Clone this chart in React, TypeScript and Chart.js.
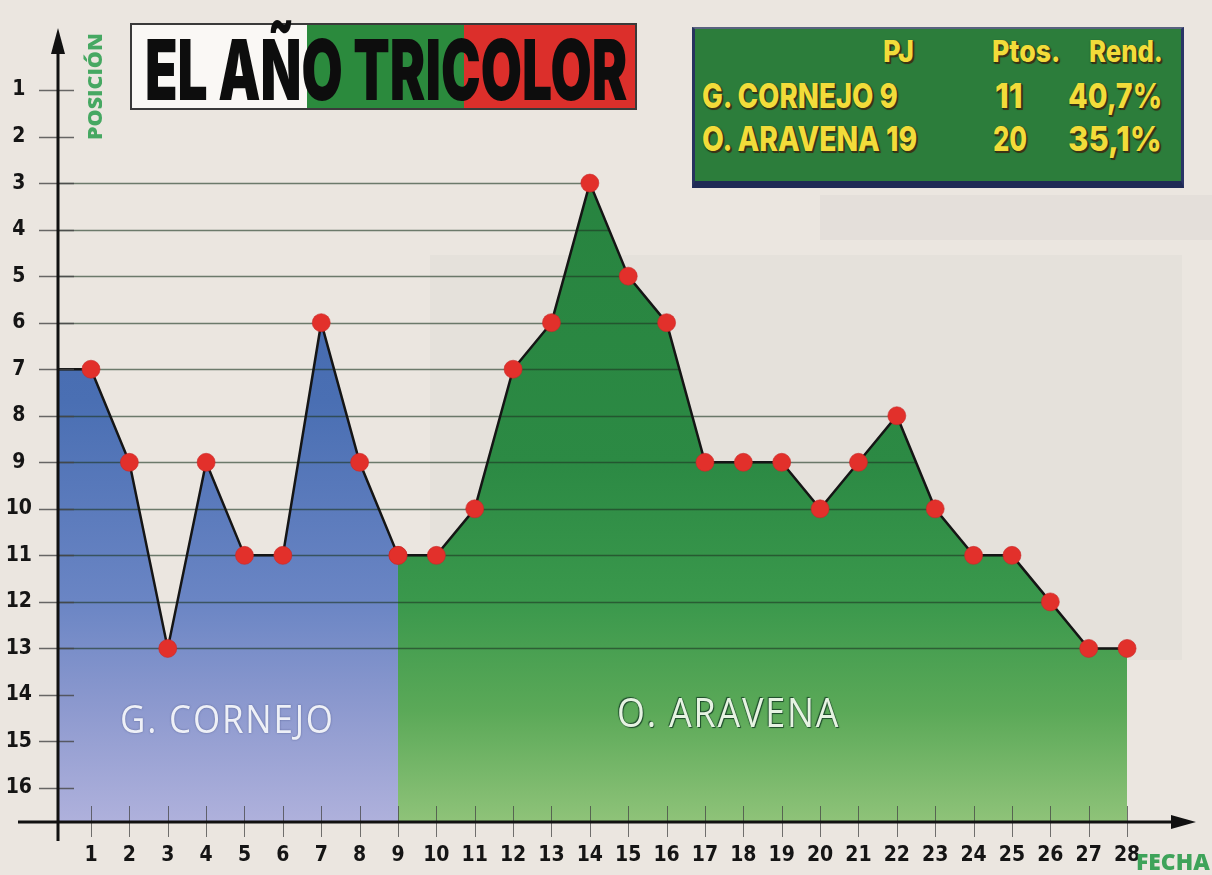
import React, { useEffect, useLayoutEffect, useRef } from "react";
import { Chart, registerables } from "chart.js";

Chart.register(...registerables);

// ---------- DATA ----------
const fechaTicks = [1, 2, 3, 4, 5, 6, 7, 8, 9, 10, 11, 12, 13, 14, 15, 16, 17, 18, 19, 20, 21, 22, 23, 24, 25, 26, 27, 28];
const posicionTicks = [1, 2, 3, 4, 5, 6, 7, 8, 9, 10, 11, 12, 13, 14, 15, 16];

const cornejoFechas = [1, 2, 3, 4, 5, 6, 7, 8, 9];
const cornejoPos = [7, 9, 13, 9, 11, 11, 6, 9, 11];

const aravenaFechas = [10, 11, 12, 13, 14, 15, 16, 17, 18, 19, 20, 21, 22, 23, 24, 25, 26, 27, 28];
const aravenaPos = [11, 10, 7, 6, 3, 5, 6, 9, 9, 9, 10, 9, 8, 10, 11, 11, 12, 13, 13];

const titleText = "EL AÑO TRICOLOR";
const statsHeader = ["PJ", "Ptos.", "Rend."];
const statsNames = ["G. CORNEJO 9", "O. ARAVENA 19"];
const statsPtos = ["11", "20"];
const statsRend = ["40,7%", "35,1%"];
const areaNames = ["G. CORNEJO", "O. ARAVENA"];
const yAxisTitle = "POSICIÓN";
const xAxisTitle = "FECHA";

// axis extents (value space)
const X_MIN = 0.14;
const X_MAX = 29.77;
const Y_MIN = -0.29;
const Y_MAX = 16.73;

const TICK_FONT = "'Liberation Sans Narrow', 'DejaVu Sans Condensed', 'Liberation Sans', sans-serif";

function rightmostCrossing(xs: number[], ys: number[], level: number): number | null {
  let best: number | null = null;
  for (let i = 0; i < xs.length - 1; i++) {
    const x0 = xs[i], x1 = xs[i + 1], y0 = ys[i], y1 = ys[i + 1];
    if (level < Math.min(y0, y1) || level > Math.max(y0, y1)) continue;
    let xc: number;
    if (y0 === y1) xc = x1;
    else xc = x0 + ((level - y0) / (y1 - y0)) * (x1 - x0);
    if (best === null || xc > best) best = xc;
  }
  return best;
}

function makeGradient(chart: any, stops: [number, string][]) {
  const ca = chart.chartArea;
  if (!ca) return stops[0][1];
  const g = chart.ctx.createLinearGradient(0, ca.top, 0, ca.bottom);
  stops.forEach(([o, c]) => g.addColorStop(o, c));
  return g;
}

const blueStops: [number, string][] = [
  [0, "#3d62aa"],
  [0.47, "#4a6fb3"],
  [0.72, "#6a85c4"],
  [0.86, "#8e9acf"],
  [1, "#afb1dc"],
];
const greenStops: [number, string][] = [
  [0, "#25803d"],
  [0.55, "#2c8a44"],
  [0.72, "#3a984c"],
  [0.86, "#5ba958"],
  [1, "#8fc379"],
];

const decorPlugin = {
  id: "decor",
  beforeDatasetsDraw(chart: any) {
    const { ctx, chartArea: ca, scales } = chart;
    const x = scales.x, y = scales.y;
    const allF = [...cornejoFechas, ...aravenaFechas];
    const allP = [...cornejoPos, ...aravenaPos];
    ctx.save();
    ctx.lineWidth = 1.3;
    ctx.strokeStyle = "rgba(30,55,35,0.62)";
    posicionTicks.forEach((level) => {
      const py = Math.round(y.getPixelForValue(level)) + 0.5;
      const ext = rightmostCrossing(allF, allP, level);
      if (ext !== null) {
        ctx.beginPath();
        ctx.moveTo(ca.left, py);
        ctx.lineTo(x.getPixelForValue(ext), py);
        ctx.stroke();
      }
    });
    ctx.restore();
  },
  afterDraw(chart: any) {
    const { ctx, chartArea: ca, scales } = chart;
    const x = scales.x, y = scales.y;
    ctx.save();
    // y tick marks
    ctx.strokeStyle = "rgba(70,70,70,0.8)";
    ctx.lineWidth = 1.3;
    posicionTicks.forEach((level) => {
      const py = Math.round(y.getPixelForValue(level)) + 0.5;
      ctx.beginPath();
      ctx.moveTo(ca.left - 19, py);
      ctx.lineTo(ca.left + 16, py);
      ctx.stroke();
    });
    // x tick marks
    ctx.strokeStyle = "rgba(70,70,70,0.75)";
    ctx.lineWidth = 1;
    fechaTicks.forEach((f) => {
      const px = Math.round(x.getPixelForValue(f)) + 0.5;
      ctx.beginPath();
      ctx.moveTo(px, ca.bottom - 16);
      ctx.lineTo(px, ca.bottom + 15);
      ctx.stroke();
    });
    // axes
    ctx.strokeStyle = "#111";
    ctx.fillStyle = "#111";
    ctx.lineWidth = 3;
    ctx.beginPath();
    ctx.moveTo(ca.left, ca.top + 10);
    ctx.lineTo(ca.left, ca.bottom + 19);
    ctx.stroke();
    ctx.beginPath();
    ctx.moveTo(18, ca.bottom);
    ctx.lineTo(ca.right - 12, ca.bottom);
    ctx.stroke();
    // arrows
    ctx.beginPath();
    ctx.moveTo(ca.left, ca.top - 2);
    ctx.lineTo(ca.left - 7, ca.top + 24);
    ctx.lineTo(ca.left + 7, ca.top + 24);
    ctx.closePath();
    ctx.fill();
    ctx.beginPath();
    ctx.moveTo(ca.right + 1, ca.bottom);
    ctx.lineTo(ca.right - 24, ca.bottom - 7);
    ctx.lineTo(ca.right - 24, ca.bottom + 7);
    ctx.closePath();
    ctx.fill();
    ctx.restore();
  },
};

function FitText(props: {
  text: string;
  x: number;
  cy: number;
  w: number;
  cap: number;
  font: string;
  weight?: number | string;
  color: string;
  style?: React.CSSProperties;
}) {
  const { text, x, cy, w, cap, font, weight, color, style } = props;
  const ref = useRef<HTMLSpanElement>(null);
  const fs = cap / 0.72;
  useLayoutEffect(() => {
    const el = ref.current;
    if (!el) return;
    el.style.transform = "none";
    const nat = el.offsetWidth;
    if (nat > 0) el.style.transform = `scaleX(${w / nat})`;
  }, [text, w, fs]);
  return (
    <span
      ref={ref}
      style={{
        position: "absolute",
        left: x,
        top: cy - fs / 2,
        fontSize: fs,
        lineHeight: `${fs}px`,
        fontFamily: font,
        fontWeight: weight as any,
        color,
        whiteSpace: "pre",
        display: "inline-block",
        transformOrigin: "0 50%",
        ...style,
      }}
    >
      {text}
    </span>
  );
}

export default function App() {
  const canvasRef = useRef<HTMLCanvasElement>(null);

  useEffect(() => {
    if (!canvasRef.current) return;
    const blueData = [
      { x: X_MIN, y: cornejoPos[0] },
      ...cornejoFechas.map((f, i) => ({ x: f, y: cornejoPos[i] })),
    ];
    const greenData = [
      { x: cornejoFechas[cornejoFechas.length - 1], y: cornejoPos[cornejoPos.length - 1] },
      ...aravenaFechas.map((f, i) => ({ x: f, y: aravenaPos[i] })),
    ];
    const common = {
      borderColor: "#151515",
      borderWidth: 2.5,
      tension: 0,
      fill: { value: Y_MAX },
      pointBackgroundColor: "#e2302b",
      pointBorderColor: "rgba(200,40,40,0.6)",
      pointBorderWidth: 1,
      pointHoverRadius: 9,
    };
    const chart = new Chart(canvasRef.current, {
      type: "line",
      data: {
        datasets: [
          {
            ...common,
            label: areaNames[0],
            data: blueData,
            backgroundColor: (c: any) => makeGradient(c.chart, blueStops),
            pointRadius: (c: any) => (c.dataIndex === 0 ? 0 : 9),
          } as any,
          {
            ...common,
            label: areaNames[1],
            data: greenData,
            backgroundColor: (c: any) => makeGradient(c.chart, greenStops),
            pointRadius: 9,
          } as any,
        ],
      },
      options: {
        responsive: false,
        animation: false,
        events: [],
        layout: { padding: { top: 30, right: 17, left: 0, bottom: 0 } },
        plugins: {
          legend: { display: false },
          tooltip: { enabled: false },
          filler: { drawTime: "beforeDatasetsDraw" } as any,
        },
        scales: {
          x: {
            type: "linear",
            min: X_MIN,
            max: X_MAX,
            grid: { display: false, drawTicks: false },
            border: { display: false },
            afterBuildTicks: (s: any) => {
              s.ticks = fechaTicks.map((v) => ({ value: v }));
            },
            afterFit: (s: any) => {
              s.height = 53;
              s.paddingLeft = 0;
              s.paddingRight = 0;
            },
            ticks: {
              autoSkip: false,
              maxRotation: 0,
              padding: 21,
              color: "#151515",
              font: { family: TICK_FONT, size: 21, weight: "bold" },
              callback: (v: any) => String(v),
            },
          },
          y: {
            type: "linear",
            reverse: true,
            min: Y_MIN,
            max: Y_MAX,
            grid: { display: false, drawTicks: false },
            border: { display: false },
            afterBuildTicks: (s: any) => {
              s.ticks = posicionTicks.map((v) => ({ value: v }));
            },
            afterFit: (s: any) => {
              s.width = 58;
              s.paddingTop = 0;
              s.paddingBottom = 0;
            },
            ticks: {
              autoSkip: false,
              crossAlign: "center",
              padding: 26,
              color: "#151515",
              font: { family: TICK_FONT, size: 21, weight: "bold" },
              callback: (v: any) => String(v),
            },
          },
        },
      },
      plugins: [decorPlugin],
    });
    return () => chart.destroy();
  }, []);

  const statsColor = "#f2dc3a";
  const statsShadow = "2px 2px 0 #3a3416, 1px 1px 2px #000";
  const statsFont = "Inter, 'DejaVu Sans', sans-serif";

  return (
    <div
      style={{
        position: "fixed",
        left: 0,
        top: 0,
        width: 1212,
        height: 875,
        overflow: "hidden",
        background: "#ebe6e0",
      }}
    >
      {/* faint photo behind the chart */}
      <div style={{ position: "absolute", left: 430, top: 255, width: 752, height: 405, background: "rgba(140,145,160,0.06)" }} />
      <div style={{ position: "absolute", left: 820, top: 195, width: 392, height: 45, background: "rgba(140,140,140,0.07)" }} />

      <canvas ref={canvasRef} width={1212} height={875} style={{ position: "absolute", left: 0, top: 0 }} />

      {/* Title box */}
      <div
        style={{
          position: "absolute",
          left: 130,
          top: 23,
          width: 507,
          height: 87,
          boxSizing: "border-box",
          border: "2px solid #3a3a3a",
          background:
            "linear-gradient(to right, #faf8f5 0px, #faf8f5 175px, #2b8a3d 175px, #2b8a3d 332px, #dc2f2b 332px, #dc2f2b 100%)",
        }}
      />
      <FitText text={titleText} x={145} cy={70} w={482} cap={60} font="Inter, 'DejaVu Sans', sans-serif" weight={900} color="#0d0d0d" />

      {/* Stats box */}
      <div
        style={{
          position: "absolute",
          left: 692,
          top: 27,
          width: 492,
          height: 161,
          boxSizing: "border-box",
          background: "#2c7d3b",
          borderLeft: "3px solid #27335e",
          borderBottom: "7px solid #1f2a55",
          borderTop: "2px solid #59627f",
          borderRight: "3px solid #2a3566",
        }}
      />
      <FitText text={statsHeader[0]} x={883} cy={51} w={31} cap={22} font={statsFont} weight={800} color={statsColor} style={{ textShadow: statsShadow }} />
      <FitText text={statsHeader[1]} x={992} cy={51} w={68} cap={22} font={statsFont} weight={800} color={statsColor} style={{ textShadow: statsShadow }} />
      <FitText text={statsHeader[2]} x={1089} cy={51} w={74} cap={22} font={statsFont} weight={800} color={statsColor} style={{ textShadow: statsShadow }} />

      <FitText text={statsNames[0]} x={702} cy={95} w={196} cap={25} font={statsFont} weight={800} color={statsColor} style={{ textShadow: statsShadow }} />
      <FitText text={statsPtos[0]} x={995} cy={95} w={28} cap={25} font={statsFont} weight={800} color={statsColor} style={{ textShadow: statsShadow }} />
      <FitText text={statsRend[0]} x={1068} cy={95} w={94} cap={25} font={statsFont} weight={800} color={statsColor} style={{ textShadow: statsShadow }} />

      <FitText text={statsNames[1]} x={702} cy={138} w={215} cap={25} font={statsFont} weight={800} color={statsColor} style={{ textShadow: statsShadow }} />
      <FitText text={statsPtos[1]} x={993} cy={138} w={34} cap={25} font={statsFont} weight={800} color={statsColor} style={{ textShadow: statsShadow }} />
      <FitText text={statsRend[1]} x={1068} cy={138} w={94} cap={25} font={statsFont} weight={800} color={statsColor} style={{ textShadow: statsShadow }} />

      {/* Area names */}
      <FitText
        text={areaNames[0]}
        x={120}
        cy={718}
        w={215}
        cap={28}
        font="'Open Sans', 'DejaVu Sans', sans-serif"
        weight={400}
        color="#eef0f7"
        style={{ letterSpacing: 2, textShadow: "0 0 2px rgba(60,70,120,0.7)" }}
      />
      <FitText
        text={areaNames[1]}
        x={617}
        cy={712}
        w={223}
        cap={29}
        font="'Open Sans', 'DejaVu Sans', sans-serif"
        weight={400}
        color="#e6f3e2"
        style={{ letterSpacing: 2, textShadow: "1px 1px 1px #1d4a2a, -1px -1px 1px #1d4a2a" }}
      />

      {/* Axis titles */}
      <div
        style={{
          position: "absolute",
          left: 86,
          top: 140,
          width: 107,
          height: 17,
          transform: "rotate(-90deg)",
          transformOrigin: "0 0",
        }}
      >
        <FitText text={yAxisTitle} x={0} cy={8.5} w={107} cap={14} font="'Open Sans', 'DejaVu Sans', sans-serif" weight={800} color="#46a862" />
      </div>
      <FitText text={xAxisTitle} x={1136} cy={862} w={74} cap={16} font="'Open Sans', 'DejaVu Sans', sans-serif" weight={800} color="#3ea35a" />
    </div>
  );
}
